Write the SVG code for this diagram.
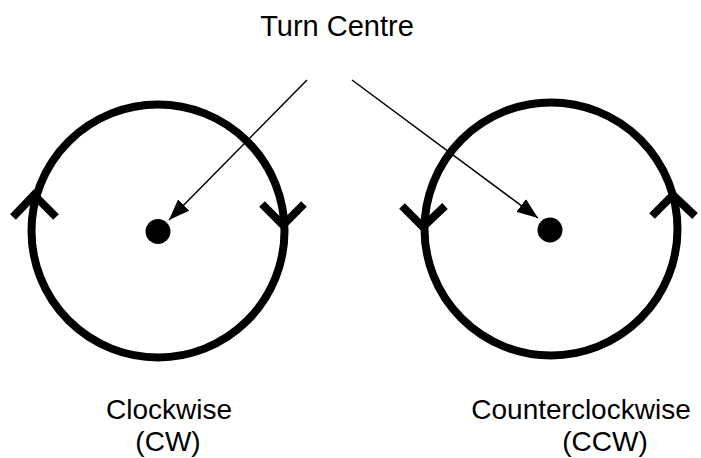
<svg xmlns="http://www.w3.org/2000/svg" width="701" height="458" viewBox="0 0 701 458">
  <style>
    .ring { fill: none; stroke: #000; stroke-width: 8; }
    .chev { fill: none; stroke: #000; stroke-width: 8; stroke-linecap: butt; stroke-linejoin: miter; }
    .dot { fill: #000; }
    .lbl { font-family: "Liberation Sans", Arial, sans-serif; font-size: 28px; fill: #000; text-anchor: middle; }
    .title { font-size: 29px; }
    .conn { stroke: #000; stroke-width: 1.5; fill: none; }
  </style>
  <defs>
    <marker id="arrow" markerUnits="userSpaceOnUse" markerWidth="22" markerHeight="16" refX="21" refY="8" orient="auto">
      <path d="M0,0 L21,8 L0,16 Z" fill="#000"/>
    </marker>
  </defs>
  <rect width="701" height="458" fill="#fff"/>

  <g id="turn-centre-label">
    <text class="lbl title" x="337" y="36">Turn Centre</text>
  </g>

  <g id="clockwise">
    <circle class="ring" cx="158" cy="231" r="126.5"/>
    <path class="chev" d="M13,217 L34,195 L56,217"/>
    <path class="chev" d="M262,204 L283,225 L304,204"/>
    <circle class="dot" cx="158" cy="231.5" r="12.5"/>
    <text class="lbl" x="169" y="419">Clockwise</text>
    <text class="lbl" x="168" y="451">(CW)</text>
  </g>

  <g id="counterclockwise">
    <circle class="ring" cx="551" cy="229" r="126.5"/>
    <path class="chev" d="M402,206 L423,227 L445,206"/>
    <path class="chev" d="M652,216 L673,195 L695,216"/>
    <circle class="dot" cx="550" cy="230" r="12.5"/>
    <text class="lbl" x="581" y="419">Counterclockwise</text>
    <text class="lbl" x="605" y="451">(CCW)</text>
  </g>

  <g id="connectors">
    <line class="conn" x1="307" y1="80" x2="169" y2="220" marker-end="url(#arrow)"/>
    <line class="conn" x1="352" y1="80" x2="538" y2="218" marker-end="url(#arrow)"/>
  </g>
</svg>
